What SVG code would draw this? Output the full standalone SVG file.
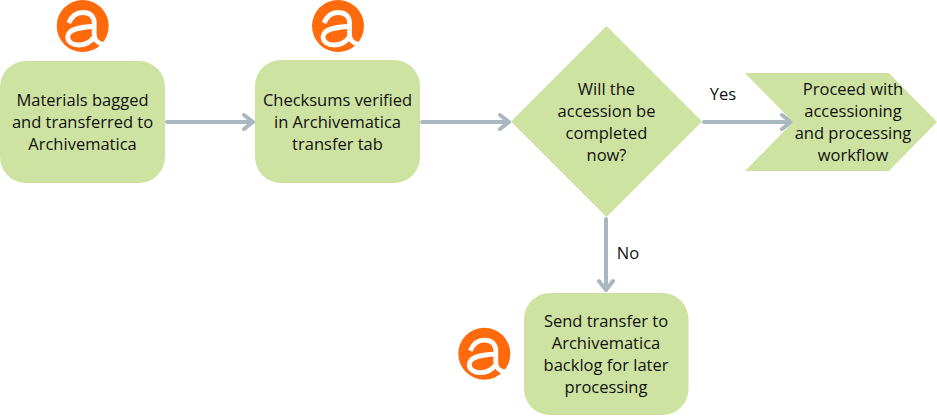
<svg xmlns="http://www.w3.org/2000/svg" width="937" height="416" viewBox="0 0 937 416">
<style>
.n{fill:#cee3a1}
text{font-family:"Open Sans","Noto Sans",sans-serif;font-size:16.500px;fill:#111;text-anchor:middle}
.c{fill:none;stroke:#a9b7c0;stroke-width:4;stroke-linejoin:round;stroke-linecap:round}
.a{fill:none;stroke:#fff;stroke-width:4.800}
</style>
<defs>
<symbol id="logo" overflow="visible"><circle r="26" fill="#ff6a0d"/><path class="a" d="M-14-3C-11-10-6-13.500 0-13.500C7-13.500 11.500-10 11.500-3V8C11.500 14 14 17 21 18.500"/><path class="a" d="M11.500 .5C0 1-15 2-15 11C-15 16-10 19-4 19C2 19 8 16 11.500 11"/></symbol>
</defs>
<rect width="937" height="416" fill="#fff"/>
<g id="connectors">
<path class="c" d="M167 122H253M244 115L253 122L244 129"/>
<path class="c" d="M422 122H509M500 115L509 122L500 129"/>
<path class="c" d="M704 122H791M782 115L791 122L782 129"/>
<path class="c" d="M606 219V290M599 281L606 290L613 281"/>
</g>
<g id="logo1"><use href="#logo" x="82.700" y="26"/></g>
<g id="logo2"><use href="#logo" x="338" y="26"/></g>
<g id="logo3"><use href="#logo" x="484.300" y="353.700"/></g>
<g id="n1"><rect class="n" x="0" y="61" width="165" height="122" rx="26"/>
<text x="82.500" y="106">Materials bagged</text><text x="82.500" y="128">and transferred to</text><text x="82.500" y="150">Archivematica</text></g>
<g id="n2"><rect class="n" x="255" y="60" width="165" height="123" rx="26"/>
<text x="337.500" y="106">Checksums verified</text><text x="337.500" y="128">in Archivematica</text><text x="337.500" y="150">transfer tab</text></g>
<g id="n3"><path class="n" d="M606.500 26L702 121.500L606.500 217L511 121.500Z"/>
<text x="606.500" y="95">Will the</text><text x="606.500" y="117">accession be</text><text x="606.500" y="139">completed</text><text x="606.500" y="161">now?</text></g>
<g id="n4"><path class="n" d="M745 73H889L937 122L889 171H745L793 122Z"/>
<text x="853" y="95">Proceed with</text><text x="853" y="117">accessioning</text><text x="853" y="139">and processing</text><text x="853" y="161">workflow</text></g>
<g id="n5"><rect class="n" x="524" y="293" width="164.500" height="122" rx="26"/>
<text x="606" y="327">Send transfer to</text><text x="606" y="349">Archivematica</text><text x="606" y="371">backlog for later</text><text x="606" y="393">processing</text></g>
<text x="723" y="100">Yes</text>
<text x="628" y="259">No</text>
</svg>
